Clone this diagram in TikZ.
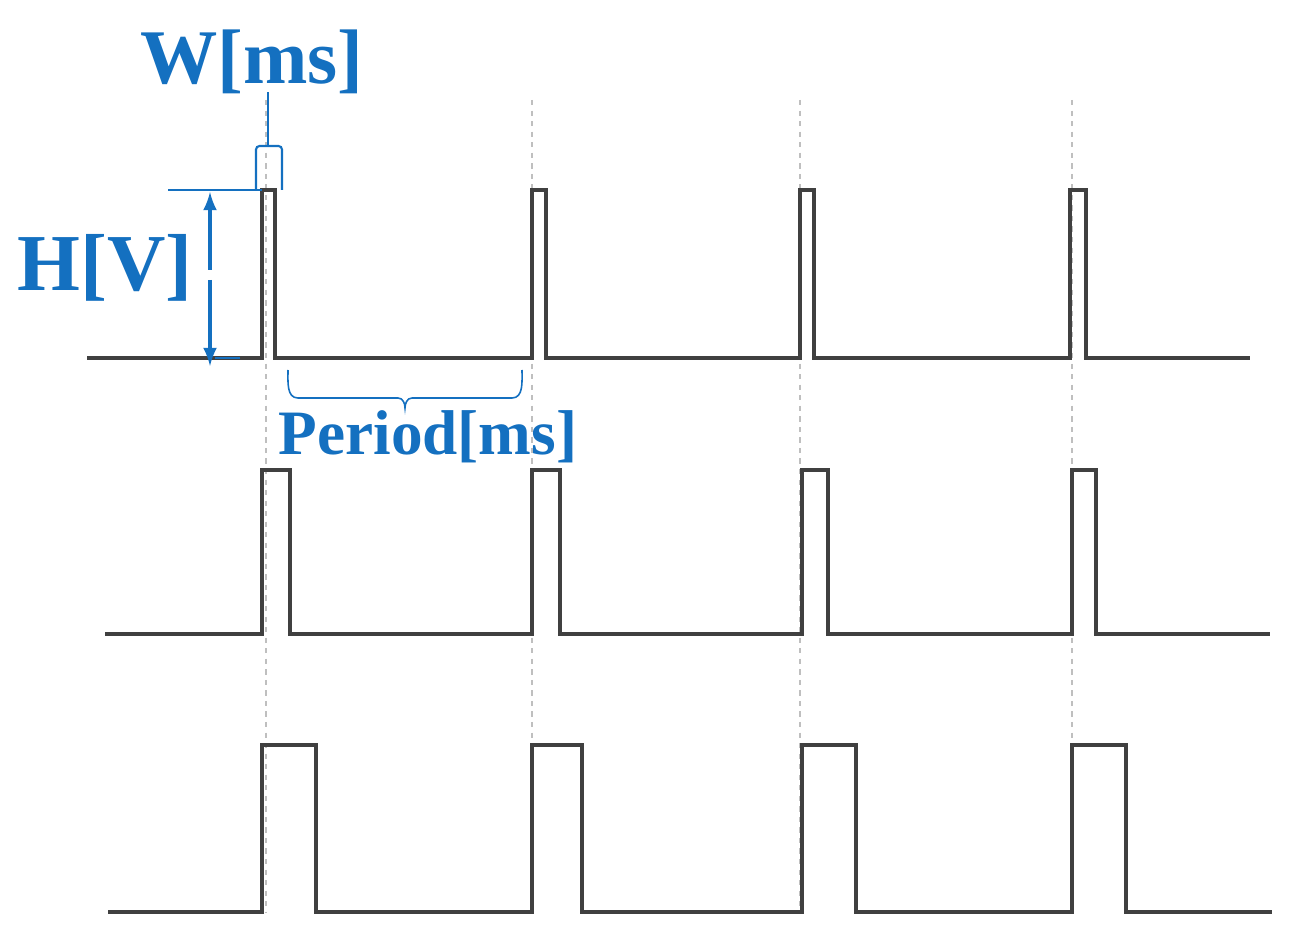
\documentclass[tikz,border=0pt]{standalone}
\usepackage{fontspec}
\setmainfont{Liberation Serif}
\definecolor{bl}{RGB}{20,112,192}
\begin{document}
\begin{tikzpicture}[x=0.02cm,y=-0.02cm,
 sig/.style={line width=2.2pt,draw=black!75},
 guide/.style={dashed,draw=black!25,line width=0.6pt},
 ann/.style={draw=bl,line width=1.2pt},
 lab/.style={text=bl,font=\bfseries}]
\useasboundingbox (0,0) rectangle (1307,952);
\foreach \x in {266,532,800,1072} \draw[guide] (\x,100) -- (\x,912);
\draw[sig] (87,358) -- (262,358) |- (275,190) |- (532,358) |- (546,190) |- (800,358) |- (814,190) |- (1070,358) |- (1086,190) |- (1250,358);
\draw[sig] (105,634) -- (262,634) |- (290,470) |- (532,634) |- (560,470) |- (802,634) |- (828,470) |- (1072,634) |- (1096,470) |- (1270,634);
\draw[sig] (108,912) -- (262,912) |- (316,745) |- (532,912) |- (582,745) |- (802,912) |- (856,745) |- (1072,912) |- (1126,745) |- (1272,912);
% W
\node[lab,font=\bfseries\fontsize{44}{44}\selectfont] (w) at (252,62) {W[ms]};
\draw[ann,rounded corners=2pt] (256,190) -- (256,146) -- (282,146) -- (282,190);
\draw[ann] (268,146) -- (268,92);
% H
\node[lab,font=\bfseries\fontsize{46}{46}\selectfont] (h) at (105,268) {H[V]};
\draw[ann] (168,190) -- (262,190);
\draw[ann,line width=2.5pt,-latex] (210,270) -- (210,192);
\draw[ann,line width=2.5pt,-latex] (210,280) -- (210,366);
\draw[ann] (215,358) -- (240,358);
% Period
\node[lab,font=\bfseries\fontsize{36}{36}\selectfont] (p) at (428,437) {Period[ms]};
\draw[ann,line width=0.9pt] (288,370) to[out=-90,in=180] (298,398) -- (398,398) to[out=0,in=90] (405,408) to[out=90,in=180] (412,398) -- (512,398) to[out=0,in=-90] (522,370);
\end{tikzpicture}
\end{document}
